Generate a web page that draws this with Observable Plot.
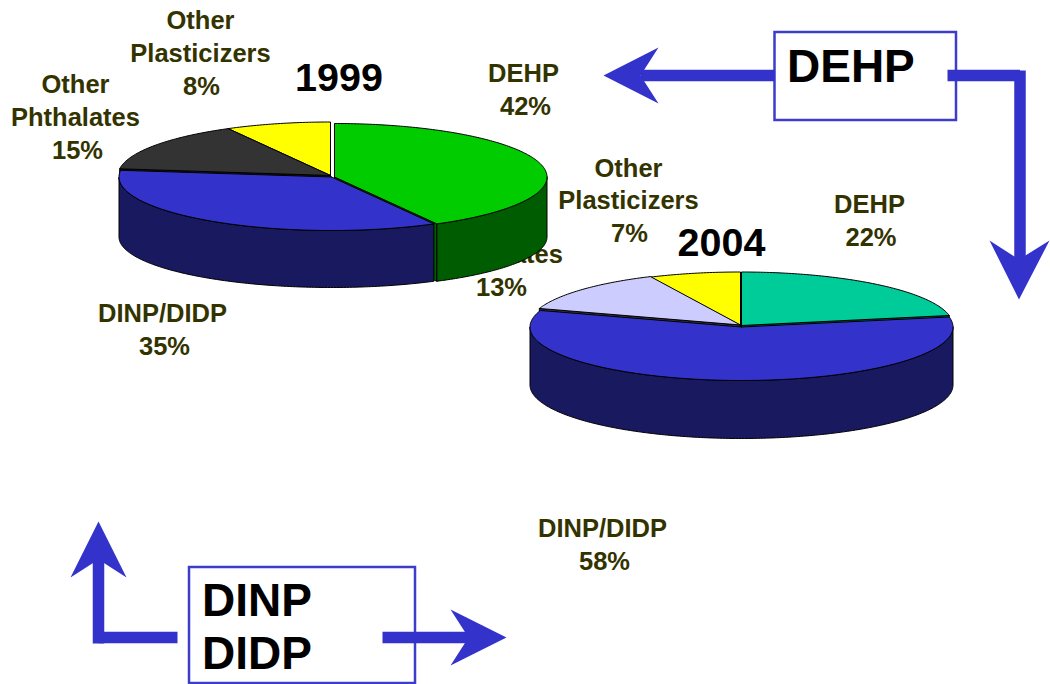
<!DOCTYPE html>
<html>
<head>
<meta charset="utf-8">
<script src="https://cdn.jsdelivr.net/npm/d3@7"></script>
<script src="https://cdn.jsdelivr.net/npm/@observablehq/plot@0.6"></script>
<style>html,body{margin:0;padding:0;background:#fff}svg{display:block}</style>
</head>
<body>
<div id="chart"></div>
<script>
// Data
const categories1999 = ["DEHP", "DINP/DIDP", "Other Phthalates", "Other Plasticizers"];
const values1999 = [42, 35, 15, 8];
const categories2004 = ["DEHP", "DINP/DIDP", "Other Phthalates", "Other Plasticizers"];
const values2004 = [22, 58, 13, 7];
const topColors1999 = ["#00cc00", "#3333cc", "#333333", "#ffff00"];
const wallColors1999 = ["#005c00", "#19195f", "#1a1a1a", "#808000"];
const topColors2004 = ["#00cc99", "#3333cc", "#ccccff", "#ffff00"];
const wallColors2004 = ["#006650", "#19195f", "#333340", "#808000"];

// Layout of the drawing
const pie1999 = {cx: 331, cy: 176, rx: 212.5, ry: 53.5, ryBottom: 50.5, depth: 60,
  offsets: [[3, 0.5], [0, 0.5], [-1, -1], [-1, -1]], paint: [3, 2, 0, 1]};
const pie2004 = {cx: 741, cy: 326, rx: 211.5, ry: 53.5, ryBottom: 53.5, depth: 58,
  offsets: [[0, -1], [0, 0.5], [-1, -1.5], [-1, -1]], paint: [3, 2, 0, 1]};

const labelColor = "#333300";
const labelNames = [
  {x: 200, y: 34.5, t: "Other\nPlasticizers"},
  {x: 75, y: 98.5, t: "Other\nPhthalates"},
  {x: 523, y: 70.5, t: "DEHP"},
  {x: 162, y: 311, t: "DINP/DIDP"},
  {x: 628, y: 182, t: "Other\nPlasticizers"},
  {x: 869, y: 202, t: "DEHP"},
  {x: 602, y: 526, t: "DINP/DIDP"}
];
const labelPercents = [
  {x: 201, y: 83.9, t: "8%"},
  {x: 77, y: 147.9, t: "15%"},
  {x: 525, y: 103.5, t: "42%"},
  {x: 164, y: 344, t: "35%"},
  {x: 629, y: 231.4, t: "7%"},
  {x: 870.5, y: 235, t: "22%"},
  {x: 604, y: 559, t: "58%"}
];
const hiddenLabel = [
  {x: 498, y: 235.5, t: "Other\nPhthalates"},
  {x: 501, y: 284.9, t: "13%"}
];
const titles = [{x: 338.5, y: 78, t: "1999"}, {x: 721, y: 243, t: "2004"}];
const boxTexts = [
  {x: 786.5, y: 64.5, t: "DEHP"},
  {x: 201.5, y: 625.5, t: "DINP\nDIDP"}
];
const boxes = [
  {x1: 774.5, x2: 956, y1: 32, y2: 120},
  {x1: 189, x2: 415, y1: 567, y2: 683}
];
const blue = "#3333cc";
const shafts = [
  [[774, 75], [640, 75]],
  [[947, 75], [1019.5, 75]],
  [[1019.5, 70], [1019.5, 262]],
  [[177, 637], [98, 637]],
  [[98, 643], [98, 556]],
  [[382, 637], [470, 637]]
];
const heads = [
  [[603, 75], [658, 47], [640, 75], [658, 103]],
  [[1018.5, 299], [989, 240], [1018.5, 259], [1049, 240]],
  [[98, 521], [70, 577], [98, 559], [126, 577]],
  [[506, 637], [450, 609], [468, 637], [450, 665]]
];

function pieMarks(values, tops, walls, g) {
  const arcs = d3.pie().sort(null).startAngle(0).endAngle(2 * Math.PI)(values);
  const pt = (a, o) => ({
    x: g.cx + o[0] + g.rx * Math.sin(a),
    y: g.cy + o[1] - g.ry * Math.cos(a)
  });
  const ptBottom = (a, o) => ({
    x: g.cx + o[0] + g.rx * Math.sin(a),
    y: g.cy + o[1] + g.depth - g.ryBottom * Math.cos(a)
  });
  const arcPts = (a0, a1, o, f = pt) => {
    const n = Math.max(2, Math.ceil(Math.abs(a1 - a0) / 0.015));
    return d3.range(n + 1).map(i => f(a0 + (a1 - a0) * i / n, o));
  };
  const poly = (pts, fill) => Plot.line([...pts, pts[0]], {
    x: "x", y: "y", fill, stroke: "#000", strokeWidth: 1, strokeLinejoin: "round", curve: "linear"
  });
  const marks = [];
  for (const i of g.paint) {
    const {startAngle: a0, endAngle: a1} = arcs[i];
    const o = g.offsets[i];
    const c = {x: g.cx + o[0], y: g.cy + o[1]};
    const cBottom = {x: c.x, y: c.y + g.depth};
    // cut faces seen through the gaps between slices
    if (Math.sin(a1) > 0.02) marks.push(poly([c, pt(a1, o), ptBottom(a1, o), cBottom], walls[i]));
    if (Math.sin(a0) < -0.02) marks.push(poly([c, pt(a0, o), ptBottom(a0, o), cBottom], walls[i]));
    // outer wall: only the front half of the disc is visible
    const w0 = Math.max(a0, Math.PI / 2), w1 = Math.min(a1, 3 * Math.PI / 2);
    if (w1 > w0) {
      marks.push(poly([...arcPts(w0, w1, o), ...arcPts(w1, w0, o, ptBottom)], walls[i]));
    }
    marks.push(poly([c, ...arcPts(a0, a1, o)], tops[i]));
  }
  return marks;
}

const fontFamily = "'Liberation Sans', Arial, Helvetica, sans-serif";
const textMark = (data, opts) => Plot.text(data, {
  x: "x", y: "y", text: "t", fontFamily, fontWeight: "bold", ...opts
});
const labelStyle = {fontSize: 25.5, lineHeight: 1.29, fill: labelColor};

const chart = Plot.plot({
  width: 1050,
  height: 684,
  margin: 0,
  x: {type: "identity", axis: null},
  y: {type: "identity", axis: null},
  style: {background: "#fff"},
  marks: [
    textMark(hiddenLabel, labelStyle),
    ...pieMarks(values1999, topColors1999, wallColors1999, pie1999),
    ...pieMarks(values2004, topColors2004, wallColors2004, pie2004),
    textMark(labelNames, labelStyle),
    textMark(labelPercents, labelStyle),
    textMark(titles, {fontSize: 39.5, fill: "#000"}),
    Plot.rect(boxes, {x1: "x1", x2: "x2", y1: "y1", y2: "y2", fill: "#fff", stroke: "#3d3dcc", strokeWidth: 2.5}),
    textMark(boxTexts, {fontSize: 46, lineHeight: 1.15, fill: "#000", textAnchor: "start"}),
    ...shafts.map(s => Plot.line(s.map(([x, y]) => ({x, y})), {x: "x", y: "y", stroke: blue, strokeWidth: 11.5, strokeLinecap: "butt", curve: "linear"})),
    ...heads.map(h => Plot.line([...h, h[0]].map(([x, y]) => ({x, y})), {x: "x", y: "y", fill: blue, stroke: "none", curve: "linear"}))
  ]
});
document.getElementById("chart").append(chart);
</script>
</body>
</html>
